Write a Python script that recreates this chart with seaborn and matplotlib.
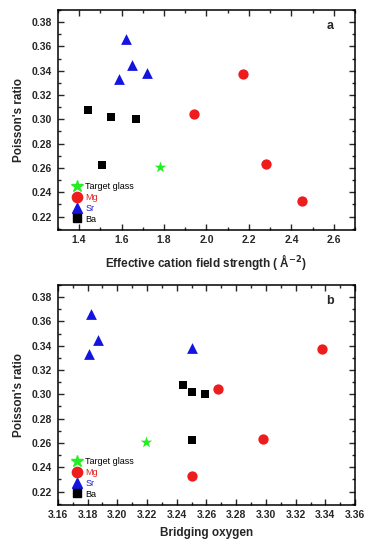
import matplotlib
matplotlib.use('Agg')
import matplotlib.pyplot as plt
import numpy as np
import pandas as pd
import seaborn as sns
from matplotlib.ticker import MultipleLocator, AutoMinorLocator
from matplotlib.lines import Line2D

# values
groups = ['Target glass', 'Mg', 'Mg', 'Mg', 'Mg', 'Sr', 'Sr', 'Sr', 'Sr', 'Ba', 'Ba', 'Ba', 'Ba']
poisson = [0.261, 0.304, 0.337, 0.263, 0.233, 0.366, 0.345, 0.333, 0.338, 0.308, 0.302, 0.300, 0.262]
field_strength = [1.78, 1.94, 2.17, 2.28, 2.45, 1.62, 1.65, 1.59, 1.72, 1.44, 1.55, 1.67, 1.51]
bridging_oxygen = [3.219, 3.268, 3.338, 3.298, 3.250, 3.182, 3.187, 3.181, 3.250, 3.244, 3.250, 3.259, 3.250]

order = ['Target glass', 'Mg', 'Sr', 'Ba']
colors = {'Target glass': '#22ee22', 'Mg': '#ee1c1c', 'Sr': '#1414e0', 'Ba': '#000000'}
text_colors = {'Target glass': 'black', 'Mg': '#e02020', 'Sr': '#2020d0', 'Ba': 'black'}
markers = {'Target glass': '*', 'Mg': 'o', 'Sr': '^', 'Ba': 's'}
sizes = {'Target glass': 75, 'Mg': 55, 'Sr': 60, 'Ba': 32}

df = pd.DataFrame({'group': groups, 'poisson': poisson,
                   'field': field_strength, 'bo': bridging_oxygen})

sns.set_style('ticks')
plt.rcParams['font.family'] = ['Liberation Sans', 'DejaVu Sans']

fig = plt.figure(figsize=(3.73, 5.5), dpi=100)
ax_a = fig.add_axes([0.155, 0.582, 0.797, 0.4])
ax_b = fig.add_axes([0.155, 0.082, 0.797, 0.4])


def draw_panel(ax, xcol, xlim, xmajor, xlabel, letter, xfmt):
    for g in order:
        sub = df[df['group'] == g]
        sns.scatterplot(data=sub, x=xcol, y='poisson', ax=ax, color=colors[g],
                        marker=markers[g], s=sizes[g], linewidth=0, legend=False, zorder=3)
    ax.set_xlim(*xlim)
    ax.set_ylim(0.209, 0.39)
    ax.xaxis.set_major_locator(MultipleLocator(xmajor))
    ax.xaxis.set_minor_locator(AutoMinorLocator(2))
    ax.yaxis.set_major_locator(MultipleLocator(0.02))
    ax.yaxis.set_minor_locator(AutoMinorLocator(2))
    ax.xaxis.set_major_formatter(plt.FormatStrFormatter(xfmt))
    ax.yaxis.set_major_formatter(plt.FormatStrFormatter('%.2f'))
    ax.tick_params(which='both', direction='in', top=True, right=True, width=1.0)
    ax.tick_params(which='major', length=4, labelsize=7.5, pad=4)
    ax.tick_params(which='minor', length=2)
    for lbl in ax.get_xticklabels() + ax.get_yticklabels():
        lbl.set_fontweight('bold')
    for sp in ax.spines.values():
        sp.set_linewidth(1.1)
        sp.set_color('black')
    ax.set_xlabel(xlabel, fontsize=8.5, fontweight='bold', labelpad=5)
    ax.set_ylabel("Poisson's ratio", fontsize=8.5, fontweight='bold', labelpad=5)
    ax.text(0.915, 0.925, letter, transform=ax.transAxes, fontsize=9,
            fontweight='bold', ha='center', va='center')

    handles = [Line2D([], [], linestyle='none', marker=markers[g], color=colors[g],
                      markersize=np.sqrt(sizes[g]))
               for g in order]
    leg = ax.legend(handles, order, loc='lower left', bbox_to_anchor=(0.025, 0.0),
                    frameon=False, fontsize=6.5, handletextpad=0.3, labelspacing=0.2,
                    handlelength=1.2, borderpad=0.2)
    for txt, g in zip(leg.get_texts(), order):
        txt.set_color(text_colors[g])


draw_panel(ax_a, 'field', (1.3, 2.7), 0.2,
           r'Effective cation field strength ( Å$^{\mathbf{-2}}$)', 'a', '%.1f')
draw_panel(ax_b, 'bo', (3.16, 3.36), 0.02, 'Bridging oxygen', 'b', '%.2f')

fig.savefig('out.png', dpi=100)
